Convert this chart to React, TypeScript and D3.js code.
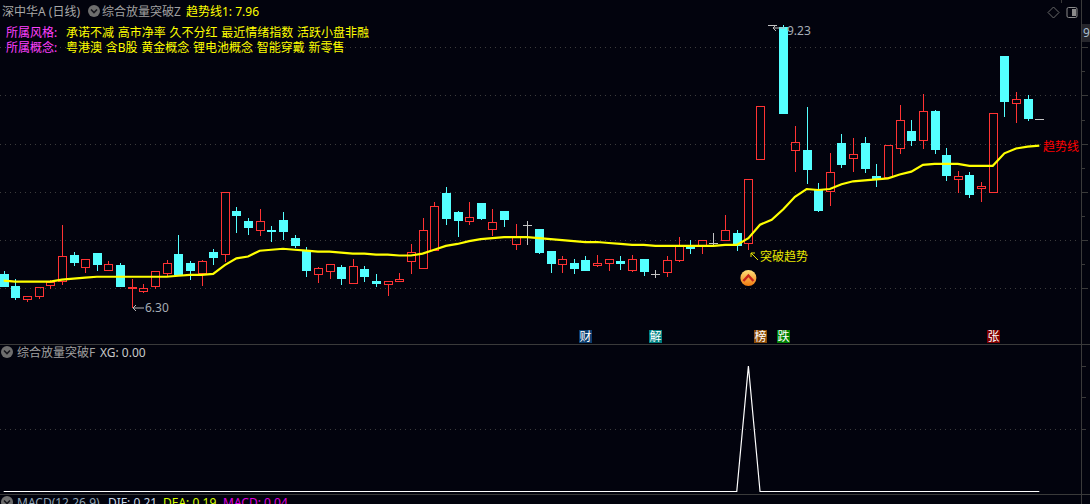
import * as d3 from 'd3';
import React from 'react';

const FONT = '"Noto Sans", "Noto Sans CJK SC", sans-serif';

const opens = [
  6.65, 6.52, 6.39, 6.42, 6.53, 6.58, 6.85, 6.72, 6.87, 6.69,
  6.74, 6.5, 6.47, 6.52, 6.66, 6.86, 6.76, 6.66, 6.88, 6.86,
  7.3, 7.2, 7.1, 7.1, 7.21, 7.02, 6.9, 6.65, 6.68, 6.72,
  6.56, 6.7, 6.58, 6.54, 6.58, 6.78, 6.71, 6.9, 7.49, 7.29,
  7.2, 7.39, 7.12, 7.3, 6.96, 7.16, 7.12, 6.89, 6.75, 6.76,
  6.79, 6.74, 6.76, 6.78, 6.69, 6.8, 6.65, 6.67, 6.79, 6.94,
  6.94, 6.97, 7.0, 7.07, 6.97, 7.84, 9.23, 9.21, 7.93, 7.93,
  7.53, 7.51, 8.01, 7.85, 8.01, 7.66, 7.65, 7.96, 8.13, 8.04,
  8.34, 7.88, 7.63, 7.68, 7.54, 7.5, 8.91, 8.42, 8.46, 8.26,
];
const closes = [
  6.51, 6.4, 6.42, 6.51, 6.57, 6.83, 6.76, 6.8, 6.74, 6.75,
  6.51, 6.51, 6.5, 6.68, 6.76, 6.64, 6.68, 6.78, 6.81, 7.5,
  7.25, 7.13, 7.2, 7.08, 7.08, 6.94, 6.68, 6.71, 6.75, 6.6,
  6.73, 6.62, 6.54, 6.58, 6.6, 6.88, 7.1, 7.35, 7.22, 7.2,
  7.24, 7.22, 7.19, 7.21, 7.04, 7.16, 6.87, 6.75, 6.8, 6.7,
  6.68, 6.76, 6.8, 6.75, 6.8, 6.67, 6.65, 6.79, 6.95, 6.91,
  7.0, 6.97, 7.1, 6.94, 7.63, 8.39, 9.23, 8.31, 8.02, 7.73,
  7.3, 7.71, 7.78, 7.89, 7.74, 7.62, 7.99, 8.25, 8.03, 8.34,
  7.93, 7.67, 7.67, 7.47, 7.56, 8.32, 8.43, 8.46, 8.26, 8.26,
];
const highs = [
  6.68, 6.6, 6.42, 6.51, 6.59, 7.16, 6.88, 6.8, 6.87, 6.78,
  6.76, 6.6, 6.54, 6.68, 6.79, 7.05, 6.78, 6.79, 6.91, 7.5,
  7.34, 7.23, 7.32, 7.15, 7.29, 7.05, 6.93, 6.72, 6.75, 6.74,
  6.8, 6.73, 6.65, 6.58, 6.66, 6.96, 7.23, 7.4, 7.55, 7.3,
  7.4, 7.39, 7.32, 7.3, 7.17, 7.2, 7.12, 6.89, 6.83, 6.8,
  6.84, 6.85, 6.8, 6.84, 6.85, 6.8, 6.69, 6.83, 7.03, 7.0,
  7.0, 7.07, 7.26, 7.1, 7.63, 8.39, 9.23, 9.23, 8.18, 8.38,
  7.59, 7.9, 8.1, 8.06, 8.07, 7.79, 7.99, 8.4, 8.25, 8.52,
  8.35, 7.96, 7.72, 7.71, 7.6, 8.32, 8.91, 8.54, 8.51, 8.26,
];
const lows = [
  6.51, 6.38, 6.36, 6.39, 6.49, 6.53, 6.73, 6.66, 6.68, 6.68,
  6.51, 6.3, 6.45, 6.49, 6.62, 6.64, 6.59, 6.52, 6.74, 6.77,
  7.07, 7.05, 7.04, 6.98, 7.0, 6.92, 6.62, 6.56, 6.6, 6.53,
  6.56, 6.57, 6.51, 6.42, 6.58, 6.65, 6.71, 6.9, 7.16, 7.03,
  7.16, 7.21, 7.04, 7.14, 6.9, 6.95, 6.86, 6.66, 6.66, 6.65,
  6.68, 6.72, 6.68, 6.69, 6.67, 6.63, 6.61, 6.62, 6.77, 6.86,
  6.86, 6.94, 7.0, 6.89, 6.9, 7.83, 9.23, 8.31, 7.71, 7.58,
  7.29, 7.35, 7.75, 7.71, 7.7, 7.55, 7.65, 7.89, 7.98, 7.95,
  7.89, 7.61, 7.49, 7.44, 7.4, 7.5, 8.28, 8.21, 8.24, 8.26,
];
const trendLine = [
  6.58, 6.57, 6.57, 6.57, 6.57, 6.59, 6.6, 6.61, 6.62, 6.62,
  6.62, 6.62, 6.62, 6.62, 6.62, 6.63, 6.64, 6.64, 6.65, 6.74,
  6.81, 6.83, 6.89, 6.9, 6.91, 6.9, 6.89, 6.88, 6.88, 6.87,
  6.86, 6.86, 6.85, 6.85, 6.84, 6.84, 6.86, 6.9, 6.94, 6.96,
  6.99, 7.01, 7.02, 7.03, 7.03, 7.03, 7.02, 7.01, 7.0, 6.99,
  6.98, 6.98, 6.97, 6.96, 6.95, 6.95, 6.94, 6.94, 6.94, 6.94,
  6.94, 6.94, 6.95, 6.95, 7.02, 7.16, 7.21, 7.32, 7.45, 7.53,
  7.52, 7.53, 7.58, 7.61, 7.62, 7.63, 7.64, 7.68, 7.71, 7.78,
  7.79, 7.79, 7.79, 7.77, 7.77, 7.77, 7.9, 7.95, 7.97, 7.98,
];
const signalDay = 64;
const xgValues = opens.map((_, i) => (i === signalDay ? 1 : 0));

const priceGrid = [6.5, 7, 7.5, 8, 8.5, 9];
const priceMinor = [6.75, 7.25, 7.75, 8.25, 8.75];
const xgTicks = [1, 0.75, 0.5];

const styleTags = ['承诺不减', '高市净率', '久不分红', '最近情绪指数', '活跃小盘非融'];
const conceptTags = ['粤港澳', '含B股', '黄金概念', '锂电池概念', '智能穿戴', '新零售'];
const flags = [
  { day: 50, text: '财', color: '#0b3d6e' },
  { day: 56, text: '解', color: '#008080' },
  { day: 65, text: '榜', color: '#8a4b08' },
  { day: 67, text: '跌', color: '#008000' },
  { day: 85, text: '张', color: '#800000' },
];

const BG = '#02030d';
const RED = '#ff3333';
const CYAN = '#54ffff';
const GREY = '#c4c4c4';
const AXIS = '#3a3a3a';
const AXIS_X = 1081.5;

const x = d3.scaleLinear().domain([0, 89]).range([3.7, 1039.3]);
const y = d3.scaleLinear().domain([6.5, 9]).range([288.3, 47.3]);
const yXg = d3.scaleLinear().domain([0, 1]).range([491.5, 366]);

const snap = (v: number) => Math.round(v) + 0.5;

const trendPath = d3
  .line<number>()
  .x((_, i) => x(i))
  .y((d) => y(d))(trendLine) as string;
const xgPath = d3
  .line<number>()
  .x((_, i) => x(i))
  .y((d) => yXg(d))(xgValues) as string;

const Chevron = ({ cx, cy }: { cx: number; cy: number }) => (
  <g>
    <circle cx={cx} cy={cy} r={6} fill="#6e6e6e" />
    <path
      d={`M${cx - 3},${cy - 1.5}L${cx},${cy + 1.5}L${cx + 3},${cy - 1.5}`}
      fill="none"
      stroke="#16161c"
      strokeWidth={1.6}
    />
  </g>
);

const Candle = ({ i }: { i: number }) => {
  const cx = snap(x(i));
  const o = opens[i];
  const c = closes[i];
  const top = Math.round(y(Math.max(o, c)));
  const bottom = Math.round(y(Math.min(o, c)));
  const hi = Math.round(y(highs[i]));
  const lo = Math.round(y(lows[i]));
  if (o === c) {
    return (
      <g stroke={GREY} shapeRendering="crispEdges">
        <line x1={cx} x2={cx} y1={hi} y2={lo} />
        <line x1={cx - 4.5} x2={cx + 4.5} y1={top + 0.5} y2={top + 0.5} />
      </g>
    );
  }
  if (c > o) {
    return (
      <g stroke={RED} fill="none" shapeRendering="crispEdges">
        <line x1={cx} x2={cx} y1={hi} y2={top} />
        <line x1={cx} x2={cx} y1={bottom} y2={lo} />
        <rect x={cx - 4} y={top + 0.5} width={8} height={Math.max(bottom - top, 1)} />
      </g>
    );
  }
  return (
    <g shapeRendering="crispEdges">
      <line x1={cx} x2={cx} y1={hi} y2={lo} stroke={CYAN} />
      <rect x={cx - 4.5} y={top} width={9} height={Math.max(bottom - top, 2)} fill={CYAN} />
    </g>
  );
};

const App: React.FC = () => {
  const sigX = x(signalDay);
  return (
    <svg
      width={1090}
      height={504}
      style={{ position: 'fixed', left: 0, top: 0, background: BG, fontFamily: FONT, fontSize: 12 }}
    >
      <defs>
        <linearGradient id="badge" x1="0" y1="0" x2="0" y2="1">
          <stop offset="0" stopColor="#ffe27a" />
          <stop offset="1" stopColor="#f07a10" />
        </linearGradient>
      </defs>

      {/* grids */}
      <g stroke="#3c3c3c" strokeDasharray="1 4" shapeRendering="crispEdges">
        {priceGrid.map((p) => (
          <line key={p} x1={0} x2={1076} y1={snap(y(p))} y2={snap(y(p))} />
        ))}
        <line x1={0} x2={1076} y1={snap(yXg(0.5))} y2={snap(yXg(0.5))} />
      </g>

      {/* axis frame */}
      <g stroke={AXIS} shapeRendering="crispEdges">
        <line x1={AXIS_X} x2={AXIS_X} y1={0} y2={504} />
        <line x1={0} x2={1090} y1={344.5} y2={344.5} />
        <line x1={0} x2={1090} y1={494.5} y2={494.5} />
        <line x1={1061.5} x2={1061.5} y1={0} y2={3} />
        {priceGrid.map((p) => (
          <line key={p} x1={AXIS_X} x2={AXIS_X + 6} y1={snap(y(p))} y2={snap(y(p))} />
        ))}
        {priceMinor.map((p) => (
          <line key={p} x1={AXIS_X} x2={AXIS_X + 3} y1={snap(y(p))} y2={snap(y(p))} />
        ))}
        {xgTicks.map((t) => (
          <line key={t} x1={AXIS_X} x2={AXIS_X + 4} y1={snap(yXg(t))} y2={snap(yXg(t))} />
        ))}
      </g>
      <rect x={1082} y={24} width={8} height={18} fill="#26262c" />
      <text x={1083} y={37} fill="#a9bfd0">9</text>

      {/* candles */}
      {opens.map((_, i) => (
        <Candle key={i} i={i} />
      ))}
      <path d={trendPath} fill="none" stroke="#ffff00" strokeWidth={2.2} />

      {/* high / low marks */}
      <path d="M773,28L785,28M773,28L776,25M773,28L776,31" fill="none" stroke="#b8b8b8" />
      <text x={787} y={35} fill="#a6adb5">9.23</text>
      <path d="M133,308L144,308M133,308L136,305M133,308L136,311" fill="none" stroke="#b8b8b8" />
      <text x={145} y={312} fill="#a6adb5">6.30</text>

      {/* breakout note */}
      <path d="M751,253L758,260M751,253L751,257M751,253L755,253" fill="none" stroke="#e8e800" />
      <text x={760} y={261} fill="#e8e800">突破趋势</text>
      <circle cx={sigX} cy={278} r={8} fill="url(#badge)" />
      <path
        d={`M${sigX - 5},${281}L${sigX},${275.5}L${sigX + 5},${281}`}
        fill="none"
        stroke="#c8261a"
        strokeWidth={2.4}
      />
      <text x={1043} y={151} fill="#ff0000">趋势线</text>

      {/* event flags */}
      {flags.map((f) => (
        <g key={f.day}>
          <rect x={Math.round(x(f.day)) - 6} y={330} width={13} height={13} fill={f.color} />
          <text x={Math.round(x(f.day)) + 0.5} y={341} fill="#ffffff" textAnchor="middle">
            {f.text}
          </text>
        </g>
      ))}

      {/* header */}
      <text x={2} y={16} fill="#a8a8a8">深中华A (日线)</text>
      <Chevron cx={94} cy={11} />
      <text x={102} y={16} fill="#a0a0a0">综合放量突破Z</text>
      <text x={186} y={16} fill="#ffff00">趋势线1: 7.96</text>
      <text x={6} y={37} fill="#ff40ff">所属风格:</text>
      <text x={66} y={37} fill="#ffff00" wordSpacing={0.6}>{styleTags.join(' ')}</text>
      <text x={6} y={52} fill="#ff40ff">所属概念:</text>
      <text x={66} y={52} fill="#ffff00" wordSpacing={0.6}>{conceptTags.join(' ')}</text>

      <path d="M1053.5,7L1059,12.5L1053.5,18L1048,12.5Z" fill="none" stroke="#6a6a6a" />
      <rect x={1067} y={7.5} width={10} height={10} rx={1.5} fill="none" stroke="#8a8a8a" />
      <rect x={1072} y={9} width={4} height={7} fill="#8a8a8a" />

      {/* XG panel */}
      <Chevron cx={7} cy={352} />
      <text x={17} y={357} fill="#a0a0a0">综合放量突破F</text>
      <text x={100} y={357} fill="#c8c8c8">XG: 0.00</text>
      <path d={xgPath} fill="none" stroke="#ffffff" strokeWidth={1.2} />

      {/* MACD header, cut by the window */}
      <Chevron cx={7} cy={502} />
      <text x={17} y={507} fill="#8fa3b5">MACD(12,26,9)</text>
      <text x={108} y={507} fill="#c8d8e8">DIF: 0.21</text>
      <text x={163} y={507} fill="#d8ff00">DEA: 0.19</text>
      <text x={223} y={507} fill="#e000e0">MACD: 0.04</text>
    </svg>
  );
};

export default App;
